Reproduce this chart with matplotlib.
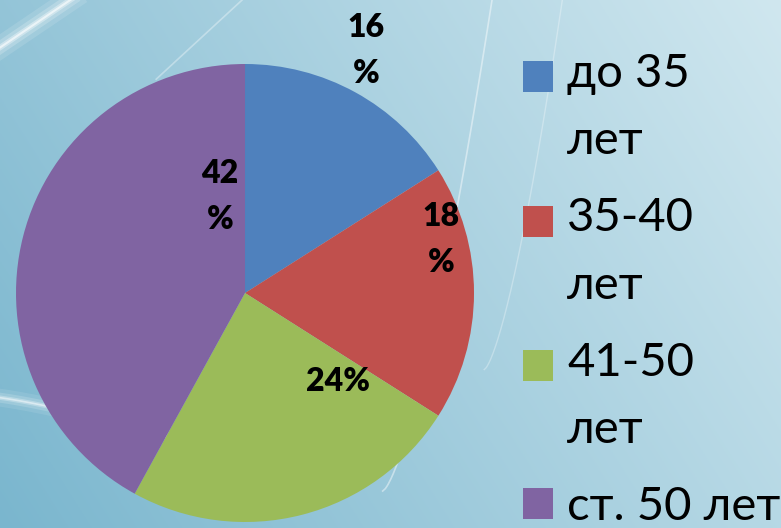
import numpy as np
import matplotlib.pyplot as plt
from matplotlib.patches import Rectangle
from matplotlib.legend_handler import HandlerPatch

plt.rcParams['font.family'] = ['Lato', 'DejaVu Sans']

# данные
labels = ["до 35\nлет", "35-40\nлет", "41-50\nлет", "ст. 50 лет"]
shares = [16, 18, 24, 42]
pct_labels = ["16\n%", "18\n%", "24%", "42\n%"]
colors = ["#4F81BD", "#C0504D", "#9BBB59", "#8064A2"]
# где стоят подписи (относительно центра круга, радиус = 1)
label_pos = [(0.528, 1.058), (0.856, 0.232), (0.408, -0.385), (-0.11, 0.421)]


class ShiftedSquare(HandlerPatch):
    # квадрат в легенде на уровне первой строки подписи
    def __init__(self, dy=0.0, **kw):
        super().__init__(**kw)
        self.dy = dy

    def create_artists(self, legend, orig_handle, xdescent, ydescent,
                       width, height, fontsize, trans):
        p = Rectangle((-xdescent, -ydescent + self.dy), width, height,
                      facecolor=orig_handle.get_facecolor(), edgecolor='none',
                      transform=trans)
        return [p]


fig = plt.figure(figsize=(7.81, 5.28), dpi=100)

# фон - голубой градиент с белыми полосами
bg = fig.add_axes([0, 0, 1, 1])
bg.axis('off')
xx, yy = np.meshgrid(np.linspace(0, 1, 400), np.linspace(0, 1, 300))
t = np.clip(0.7 * xx + 0.3 * yy, 0, 1)[..., None]
dark = np.array([122, 182, 206]) / 255
light = np.array([208, 231, 239]) / 255
bg.imshow(dark + (light - dark) * t, extent=[0, 1, 0, 1], origin='lower', aspect='auto')
s = np.linspace(0, 1, 200)
for lw, a in [(16, 0.12), (9, 0.2), (4, 0.35), (1.5, 0.6)]:
    bg.plot(-0.03 + 0.15 * s, 0.88 + 0.15 * s, color='white', lw=lw, alpha=a)
    bg.plot(-0.02 + 0.24 * s, 0.25 - 0.08 * s ** 1.3, color='white', lw=lw * 0.8,
            alpha=a * 0.8)
bg.plot(0.2 + 0.11 * s, 0.85 + 0.15 * s, color='white', lw=1.2, alpha=0.35)
bg.plot(0.49 + 0.14 * s ** 0.7, 0.07 + 0.93 * s, color='white', lw=1.2, alpha=0.45)
bg.plot(0.62 + 0.1 * s ** 0.7, 0.3 + 0.7 * s, color='white', lw=1.0, alpha=0.3)
bg.set_xlim(0, 1)
bg.set_ylim(0, 1)

ax = fig.add_axes([0.02049, 0.01136, 0.58643, 0.86742])
wedges, _ = ax.pie(shares, colors=colors, startangle=90, counterclock=False, radius=1,
                   wedgeprops=dict(linewidth=0))
ax.set_xlim(-1, 1)
ax.set_ylim(-1, 1)

for txt, (x, y) in zip(pct_labels, label_pos):
    ax.text(x, y, txt, ha='center', va='center', fontsize=23, fontweight='heavy',
            linespacing=1.7, color='black')

hmap = {w: ShiftedSquare(dy=22.7 if '\n' in lab else 0.0) for w, lab in zip(wedges, labels)}
leg = fig.legend(wedges, labels, loc='upper left', bbox_to_anchor=(523 / 781, 1 - 53 / 528),
                 frameon=False, borderpad=0, borderaxespad=0, fontsize=34,
                 handlelength=0.635, handleheight=0.635, handletextpad=0.3,
                 labelspacing=0.74, handler_map=hmap)
for tx in leg.get_texts():
    tx.set_linespacing(1.75)

fig.savefig('out.png', dpi=100)
